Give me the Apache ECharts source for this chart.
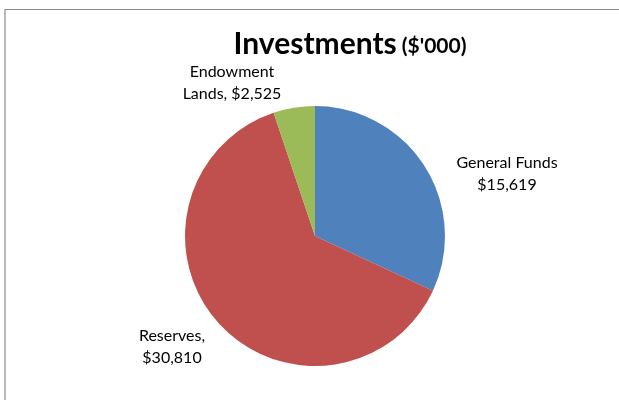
<!DOCTYPE html>
<html><head><meta charset="utf-8">
<script src="https://cdn.jsdelivr.net/npm/echarts@6/dist/echarts.min.js"></script>
<style>html,body{margin:0;padding:0;background:#fff}#c{width:619px;height:400px}</style>
</head><body><div id="c"></div>
<script>
const categories = ['General Funds', 'Reserves', 'Endowment Lands'];
const values = [15619, 30810, 2525];
const labelTexts = ['General Funds\n$15,619', 'Reserves,\n$30,810', 'Endowment\nLands, $2,525'];
const colors = ['#4F81BD', '#C0504D', '#9BBB59'];
const labelPos = [[507, 174], [172, 347], [232, 83]];
const font = 'Lato, "Open Sans", sans-serif';
const chart = echarts.init(document.getElementById('c'));
chart.setOption({
  backgroundColor: '#fff',
  animation: false,
  title: {
    text: "{a|Investments} {b|($'000)}",
    left: 345, top: 24, textAlign: 'center',
    textStyle: { rich: {
      a: { fontFamily: font, fontWeight: 'bold', fontSize: 30, color: '#000' },
      b: { fontFamily: font, fontWeight: 'bold', fontSize: 21, color: '#000', padding: [5, 0, 0, 0] }
    } }
  },
  graphic: [{ type: 'rect', shape: { x: 5, y: 9.5, width: 800, height: 600 }, style: { fill: 'none', stroke: '#8c8c8c', lineWidth: 1.2 }, silent: true }],
  series: [{
    type: 'pie',
    center: [315, 236],
    radius: 130,
    startAngle: 90,
    clockwise: true,
    data: categories.map((c, i) => ({ name: c, value: values[i], itemStyle: { color: colors[i] }, label: { formatter: labelTexts[i] } })),
    label: { show: true, position: 'outside', fontFamily: font, fontSize: 16, color: '#000', lineHeight: 22, align: 'center' },
    labelLine: { show: false },
    labelLayout: function (p) {
      const pos = labelPos[p.dataIndex];
      return { x: pos[0], y: pos[1], align: 'center', verticalAlign: 'middle' };
    },
    emphasis: { disabled: true }
  }]
});
</script></body></html>
